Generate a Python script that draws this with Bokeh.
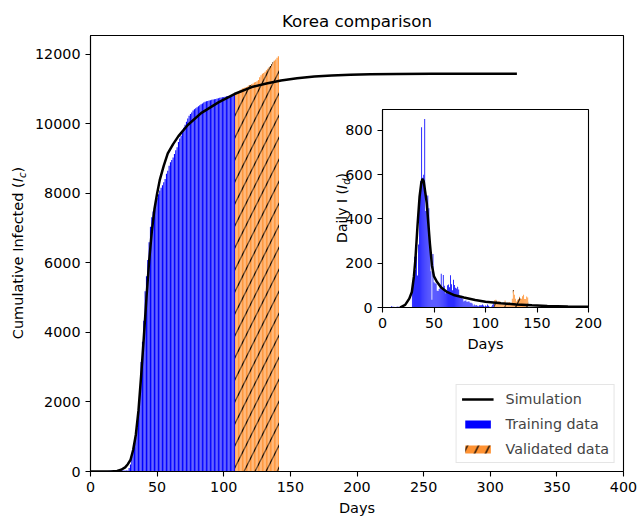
import numpy as np
from bokeh.plotting import figure
from bokeh.models import Range1d, Legend, LegendItem, FixedTicker, Div
from bokeh.layouts import column
from bokeh.embed import file_html
from bokeh.resources import INLINE

FONT = "DejaVu Sans"

# ---------------- data ----------------
days = list(range(142))
cumulative = [
    1, 1, 2, 2, 3, 4, 4, 4, 4, 11, 12, 15, 15, 16, 19, 23, 24, 24, 25, 27,
    28, 28, 28, 28, 28, 29, 30, 31, 31, 104, 204, 433, 602, 833, 977, 1261, 1766, 2337, 3150, 3736,
    4335, 5186, 5621, 6088, 6593, 7041, 7314, 7478, 7513, 7755, 7869, 7979, 8086, 8162, 8236, 8320, 8413, 8565, 8652, 8799,
    8897, 8961, 9037, 9137, 9241, 9332, 9478, 9583, 9661, 9786, 9887, 9976, 10062, 10156, 10237, 10284, 10331, 10384, 10423, 10450,
    10480, 10512, 10537, 10564, 10591, 10613, 10635, 10653, 10661, 10674, 10683, 10694, 10702, 10708, 10718, 10728, 10738, 10752, 10761, 10765,
    10774, 10780, 10793, 10801, 10804, 10806, 10810, 10822, 10840, 10874, 10909, 10936, 10962, 10991, 11018, 11037, 11050, 11065, 11078, 11110,
    11122, 11142, 11165, 11190, 11206, 11225, 11265, 11344, 11402, 11441, 11468, 11503, 11541, 11590, 11629, 11668, 11719, 11776, 11814, 11852,
    11902, 11947,
]
last_training_day = 108

sim_days = [0, 10, 15, 20, 23, 26, 28, 30, 32, 34, 36, 38, 40, 42, 44, 46, 48, 50, 52, 55,
            58, 62, 66, 73, 83, 96, 108, 121, 132, 143, 155, 168, 181, 195, 210, 230, 256, 290, 320]
sim_cumulative = [0, 1, 3, 15, 50, 120, 210, 330, 620, 1050, 1750, 2750, 3850, 5000, 6050, 6900, 7550, 8000, 8390, 8800,
                  9150, 9420, 9650, 9970, 10310, 10620, 10860, 11060, 11165, 11250, 11315, 11365, 11395, 11415, 11428, 11437, 11442, 11444, 11445]

sim_daily_days = [17, 22, 26, 28.5, 30.5, 32, 34, 36, 37.6, 38.8, 40, 41.5, 43, 44.5, 46, 48, 50, 53, 57, 62,
                  70, 79, 90, 100, 115, 130, 145, 160, 180, 200]
sim_daily = [0, 12, 40, 70, 140, 220, 370, 500, 560, 581, 570, 520, 470, 380, 290, 190, 140, 115, 90, 72,
             55, 45, 34, 26, 19, 14, 10, 7, 4, 3]

main_x_ticks = [0, 50, 100, 150, 200, 250, 300, 350, 400]
main_y_ticks = [0, 2000, 4000, 6000, 8000, 10000, 12000]
inset_x_ticks = [0, 50, 100, 150, 200]
inset_y_ticks = [0, 200, 400, 600, 800]

title_text = "Korea comparison"
legend_labels = ["Simulation", "Training data", "Validated data"]

BLUE = "#0000ff"
ORANGE = "#ff7f0e"
TICK_FS = "14.3px"
LABEL_F = 14.5

d = np.array(days)
cum = np.array(cumulative)
daily = np.diff(cum, prepend=0)
train = d <= last_training_day
val = ~train


def style(fig, xt, yt):
    fig.background_fill_color = "white"
    fig.outline_line_color = "black"
    fig.outline_line_width = 1.1
    fig.outline_line_alpha = 1.0
    fig.xgrid.visible = False
    fig.ygrid.visible = False
    fig.xaxis[0].ticker = FixedTicker(ticks=xt)
    fig.yaxis[0].ticker = FixedTicker(ticks=yt)
    for ax in (fig.xaxis[0], fig.yaxis[0]):
        ax.axis_line_color = "black"
        ax.axis_line_width = 1.1
        ax.major_tick_line_color = "black"
        ax.major_tick_line_width = 1.1
        ax.major_tick_out = 5
        ax.major_tick_in = 0
        ax.minor_tick_line_color = None
        ax.major_label_text_font = FONT
        ax.major_label_text_font_size = TICK_FS
        ax.major_label_text_color = "black"
        ax.major_label_standoff = 5
        ax.axis_label_text_font = FONT
        ax.axis_label_text_font_size = f"{LABEL_F}px"
        ax.axis_label_text_font_style = "normal"
        ax.axis_label_text_color = "black"
        ax.axis_label_standoff = 5


# ---------------- main figure (page 637 x 525) ----------------
p = figure(frame_width=533, frame_height=436,
           x_range=Range1d(0, 400), y_range=Range1d(0, 12544),
           output_backend="svg", toolbar_location=None,
           min_border_left=90, min_border_right=14, min_border_top=35, min_border_bottom=54)
style(p, main_x_ticks, main_y_ticks)
p.border_fill_color = "white"
p.title.text = title_text
p.title.align = "center"
p.title.text_font = FONT
p.title.text_font_size = "16.7px"
p.title.text_font_style = "normal"
p.title.text_color = "black"
p.title.standoff = 9
p.xaxis[0].axis_label = "Days"

r_train = p.vbar(x=d[train], top=cum[train], width=0.8, fill_color=BLUE, line_color=None)
r_val = p.vbar(x=d[val], top=cum[val], width=0.8, fill_color=ORANGE, fill_alpha=0.85, line_color=None,
               hatch_pattern="/", hatch_color="black", hatch_scale=22, hatch_weight=1.3)
r_sim = p.line(sim_days, sim_cumulative, line_color="black", line_width=2.5)

legend = Legend(items=[LegendItem(label=legend_labels[0], renderers=[r_sim]),
                       LegendItem(label=legend_labels[1], renderers=[r_train]),
                       LegendItem(label=legend_labels[2], renderers=[r_val])],
                location="bottom_right", label_text_font=FONT, label_text_font_size=TICK_FS,
                glyph_width=32, glyph_height=10, label_standoff=12, padding=5, spacing=8,
                label_height=17, margin=8, border_line_color="#cccccc",
                background_fill_color="white", background_fill_alpha=0.8)
p.add_layout(legend)

# ---------------- inset (frame left/right borders equal to the main figure's) ----------------
q = figure(frame_width=206, frame_height=198,
           x_range=Range1d(0, 200), y_range=Range1d(0, 893.6),
           output_backend="svg", toolbar_location=None, title=None,
           min_border_left=90, min_border_right=14, min_border_top=6, min_border_bottom=50)
style(q, inset_x_ticks, inset_y_ticks)
q.border_fill_alpha = 0.0
q.xaxis[0].axis_label = "Days"
q.vbar(x=d[train], top=daily[train], width=0.8, fill_color=BLUE, line_color=None)
q.vbar(x=d[val], top=daily[val], width=0.8, fill_color=ORANGE, fill_alpha=0.85, line_color=None,
       hatch_pattern="/", hatch_color="black", hatch_scale=22, hatch_weight=1.3)
q.line(sim_daily_days, sim_daily, line_color="black", line_width=2.5)
q.margin = (-422, 35, 168, 292)

# ---------------- y-axis labels with italic symbol and subscript (real text) ----------------
W, H = 637, 525


def vlabel(cx, cy, fs, main, sym, sub, close):
    return (f'<div style="position:absolute; left:{cx}px; top:{cy}px; '
            f'transform: translate(-50%, -50%) rotate(-90deg); white-space:nowrap; '
            f"font-family:'{FONT}'; font-size:{fs}px; line-height:1; color:#000;\">"
            f'{main}<i>{sym}</i><span style="position:relative; top:{0.22 * fs:.1f}px; '
            f'font-size:70%; font-style:italic;">{sub}</span>{close}</div>')


html = (f'<div style="position:relative; width:{W}px; height:{H}px;">'
        + vlabel(17.7, 253, LABEL_F, "Cumulative Infected (", "I", "c", ")")
        + vlabel(342.2, 208, 14.0, "Daily I (", "I", "d", ")")
        + '</div>')
labels = Div(text=html, width=W, height=H, margin=(-H, 0, 0, 0))

layout = column(p, q, labels, spacing=0)
open("out.html", "w").write(file_html(layout, INLINE))
